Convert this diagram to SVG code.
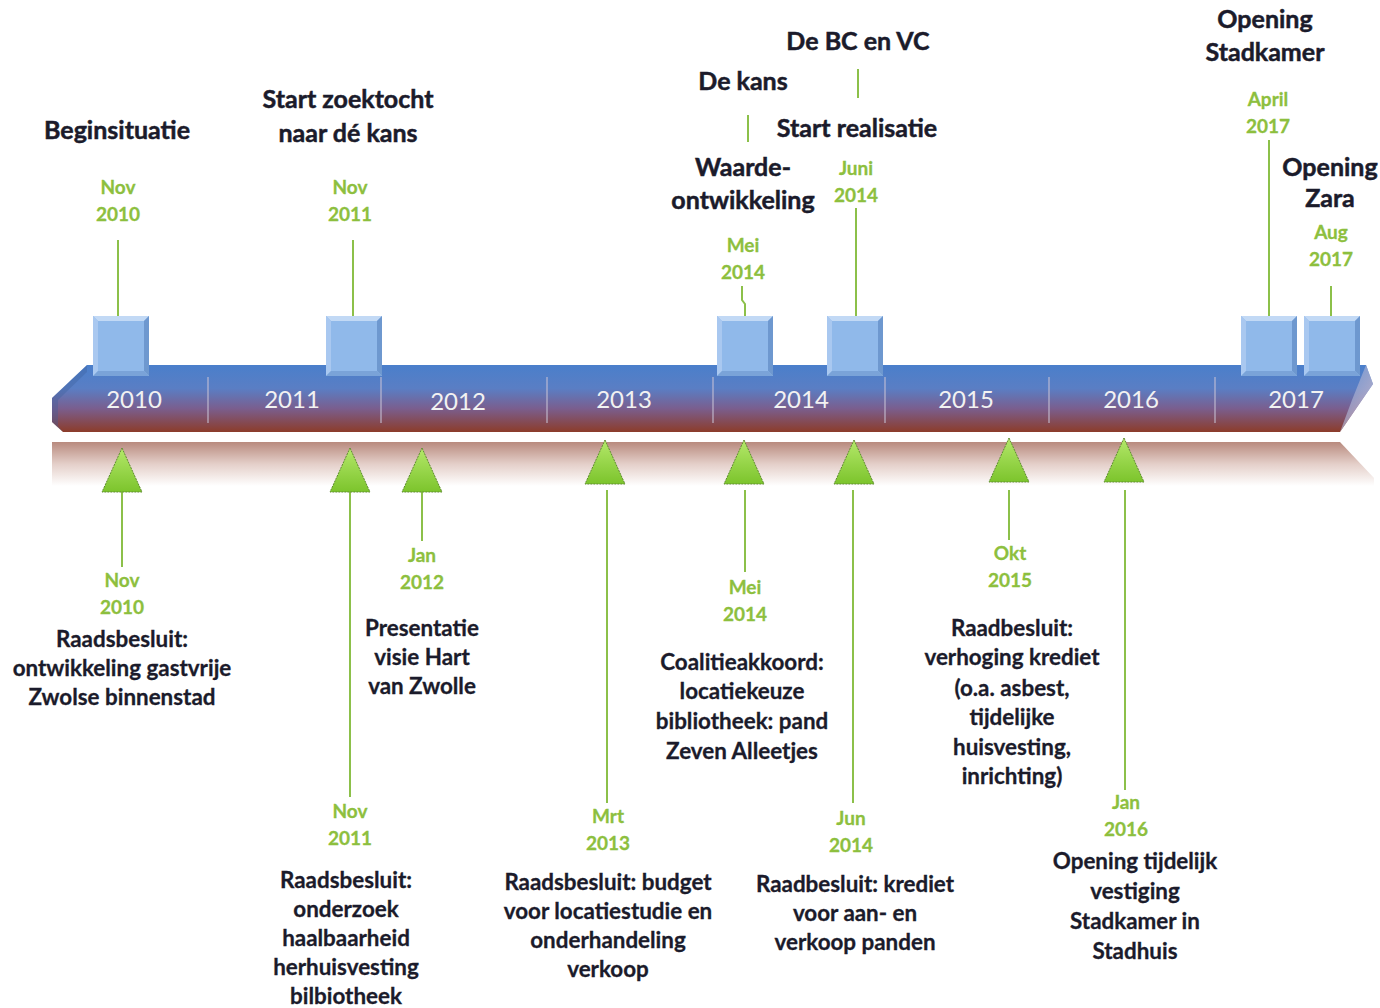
<svg xmlns="http://www.w3.org/2000/svg" width="1380" height="1008" viewBox="0 0 1380 1008">
  <defs>
    <linearGradient id="barGrad" x1="0" y1="0" x2="0" y2="1">
      <stop offset="0" stop-color="#4a7fcb"/>
      <stop offset="0.35" stop-color="#5a7ec4"/>
      <stop offset="0.65" stop-color="#7a5e8e"/>
      <stop offset="1" stop-color="#8c3c2a"/>
    </linearGradient>
    <linearGradient id="reflGrad" x1="0" y1="0" x2="0" y2="1">
      <stop offset="0" stop-color="#b88a7e"/>
      <stop offset="0.5" stop-color="#e4cfc9"/>
      <stop offset="1" stop-color="#ffffff"/>
    </linearGradient>
    <linearGradient id="tipGrad" x1="0" y1="0" x2="1" y2="1">
      <stop offset="0" stop-color="#6e9ad8"/>
      <stop offset="1" stop-color="#f0c8c8"/>
    </linearGradient>
    <linearGradient id="triGrad" x1="0" y1="0" x2="0" y2="1">
      <stop offset="0" stop-color="#b4e86a"/>
      <stop offset="1" stop-color="#7cc42c"/>
    </linearGradient>
    <!-- bevelled blue marker square, 56 x 60 -->
    <g id="sq">
      <rect x="0" y="0" width="56" height="60" fill="#8fb8ea"/>
      <polygon points="0,0 56,0 51,5 5,5" fill="#c2d9f5"/>
      <polygon points="0,0 5,5 5,55 0,60" fill="#a9c8f0"/>
      <polygon points="56,0 56,60 51,55 51,5" fill="#6e98cf"/>
      <polygon points="0,60 56,60 51,55 5,55" fill="#7aa3d8"/>
      <rect x="5" y="5" width="46" height="50" fill="#90b9ea"/>
    </g>
    <!-- green marker triangle, apex at origin -->
    <polygon id="tri" points="0,0 20,44 -20,44" fill="url(#triGrad)" stroke="#5f8c30" stroke-width="1" stroke-dasharray="2 1"/>
  </defs>
  <style>
    .lead { stroke: #8cc04a; stroke-width: 2; fill: none; }
    .date { font-family: Lato, "Open Sans", sans-serif; font-weight: bold; font-size: 19px; fill: #8dbf3e; stroke: #8dbf3e; stroke-width: 0.3; text-anchor: middle; }
    .head { font-family: Lato, "Open Sans", sans-serif; font-weight: bold; font-size: 25px; fill: #1b1b2b; stroke: #1b1b2b; stroke-width: 0.5; text-anchor: middle; }
    .note { font-family: Lato, "Open Sans", sans-serif; font-weight: bold; font-size: 22.4px; fill: #1b1b2b; stroke: #1b1b2b; stroke-width: 0.3; text-anchor: middle; }
    .year { font-family: Lato, "Open Sans", sans-serif; font-size: 24px; fill: #f2f2f2; text-anchor: middle; }
    .div { stroke: #c9c3d6; stroke-width: 1.5; opacity: 0.7; }
  </style>

  <rect width="1380" height="1008" fill="#ffffff"/>

  <!-- timeline bar -->
  <g id="timeline">
    <polygon points="52,442 1340,442 1374,478 1374,486 52,486" fill="url(#reflGrad)"/>
    <polygon points="87,365 1366,365 1373,384 1340,432 63,432 52,422 52,398" fill="url(#barGrad)"/>
    <polygon points="1366,365 1373,384 1340,432 1352,400" fill="url(#tipGrad)" opacity="0.7"/>
    <polygon points="52,398 87,365 87,372 58,400 58,426 63,432 52,422" fill="#3d5f9a" opacity="0.35"/>
    <line class="div" x1="208" y1="377" x2="208" y2="423"/>
    <line class="div" x1="381" y1="377" x2="381" y2="423"/>
    <line class="div" x1="547" y1="377" x2="547" y2="423"/>
    <line class="div" x1="713" y1="377" x2="713" y2="423"/>
    <line class="div" x1="885" y1="377" x2="885" y2="423"/>
    <line class="div" x1="1049" y1="377" x2="1049" y2="423"/>
    <line class="div" x1="1215" y1="377" x2="1215" y2="423"/>
    <text class="year" x="134" y="408">2010</text>
    <text class="year" x="292" y="408">2011</text>
    <text class="year" x="458" y="410">2012</text>
    <text class="year" x="624" y="408">2013</text>
    <text class="year" x="801" y="408">2014</text>
    <text class="year" x="966" y="408">2015</text>
    <text class="year" x="1131" y="408">2016</text>
    <text class="year" x="1296" y="408">2017</text>
  </g>

  <!-- connectors: leader lines from markers to labels -->
  <g id="connectors">
    <line class="lead" x1="118" y1="240" x2="118" y2="316"/>
    <line class="lead" x1="353" y1="240" x2="353" y2="316"/>
    <polyline class="lead" points="742,286 742,300 745,304 745,316"/>
    <line class="lead" x1="856" y1="208" x2="856" y2="316"/>
    <line class="lead" x1="1269" y1="140" x2="1269" y2="316"/>
    <line class="lead" x1="1331" y1="286" x2="1331" y2="316"/>
    <line class="lead" x1="748" y1="115" x2="748" y2="142"/>
    <line class="lead" x1="858" y1="69" x2="858" y2="98"/>

    <line class="lead" x1="122" y1="490" x2="122" y2="567"/>
    <line class="lead" x1="350" y1="490" x2="350" y2="797"/>
    <line class="lead" x1="422" y1="490" x2="422" y2="541"/>
    <line class="lead" x1="607" y1="490" x2="607" y2="803"/>
    <line class="lead" x1="745" y1="490" x2="745" y2="572"/>
    <line class="lead" x1="853" y1="490" x2="853" y2="803"/>
    <line class="lead" x1="1009" y1="490" x2="1009" y2="540"/>
    <line class="lead" x1="1125" y1="490" x2="1125" y2="790"/>
  </g>

  <!-- events above the timeline -->
  <g id="ev-2010-11-top">
    <use href="#sq" x="93" y="316"/>
    <text class="date" x="118" y="194">Nov</text>
    <text class="date" x="118" y="221">2010</text>
    <text class="head" x="117" y="139">Beginsituatie</text>
  </g>
  <g id="ev-2011-11-top">
    <use href="#sq" x="326" y="316"/>
    <text class="date" x="350" y="194">Nov</text>
    <text class="date" x="350" y="221">2011</text>
    <text class="head" x="348" y="108">Start zoektocht</text>
    <text class="head" x="348" y="142">naar dé kans</text>
  </g>
  <g id="ev-2014-05-top">
    <use href="#sq" x="717" y="316"/>
    <text class="date" x="743" y="252">Mei</text>
    <text class="date" x="743" y="279">2014</text>
    <text class="head" x="743" y="90">De kans</text>
    <text class="head" x="743" y="176">Waarde-</text>
    <text class="head" x="743" y="209">ontwikkeling</text>
  </g>
  <g id="ev-2014-06-top">
    <use href="#sq" x="827" y="316"/>
    <text class="date" x="856" y="175">Juni</text>
    <text class="date" x="856" y="202">2014</text>
    <text class="head" x="858" y="50">De BC en VC</text>
    <text class="head" x="857" y="137">Start realisatie</text>
  </g>
  <g id="ev-2017-04-top">
    <use href="#sq" x="1241" y="316"/>
    <text class="date" x="1268" y="106">April</text>
    <text class="date" x="1268" y="133">2017</text>
    <text class="head" x="1265" y="28">Opening</text>
    <text class="head" x="1265" y="61">Stadkamer</text>
  </g>
  <g id="ev-2017-08-top">
    <use href="#sq" x="1304" y="316"/>
    <text class="date" x="1331" y="239">Aug</text>
    <text class="date" x="1331" y="266">2017</text>
    <text class="head" x="1330" y="176">Opening</text>
    <text class="head" x="1330" y="207">Zara</text>
  </g>

  <!-- events below the timeline -->
  <g id="ev-2010-11-bottom">
    <use href="#tri" x="122" y="448"/>
    <text class="date" x="122" y="587">Nov</text>
    <text class="date" x="122" y="614">2010</text>
    <text class="note" x="122" y="647">Raadsbesluit:</text>
    <text class="note" x="122" y="676">ontwikkeling gastvrije</text>
    <text class="note" x="122" y="705">Zwolse binnenstad</text>
  </g>
  <g id="ev-2011-11-bottom">
    <use href="#tri" x="350" y="448"/>
    <text class="date" x="350" y="818">Nov</text>
    <text class="date" x="350" y="845">2011</text>
    <text class="note" x="346" y="888">Raadsbesluit:</text>
    <text class="note" x="346" y="917">onderzoek</text>
    <text class="note" x="346" y="946">haalbaarheid</text>
    <text class="note" x="346" y="975">herhuisvesting</text>
    <text class="note" x="346" y="1004">bilbiotheek</text>
  </g>
  <g id="ev-2012-01-bottom">
    <use href="#tri" x="422" y="448"/>
    <text class="date" x="422" y="562">Jan</text>
    <text class="date" x="422" y="589">2012</text>
    <text class="note" x="422" y="636">Presentatie</text>
    <text class="note" x="422" y="665">visie Hart</text>
    <text class="note" x="422" y="694">van Zwolle</text>
  </g>
  <g id="ev-2013-03-bottom">
    <use href="#tri" x="605" y="440"/>
    <text class="date" x="608" y="823">Mrt</text>
    <text class="date" x="608" y="850">2013</text>
    <text class="note" x="608" y="890">Raadsbesluit: budget</text>
    <text class="note" x="608" y="919">voor locatiestudie en</text>
    <text class="note" x="608" y="948">onderhandeling</text>
    <text class="note" x="608" y="977">verkoop</text>
  </g>
  <g id="ev-2014-05-bottom">
    <use href="#tri" x="744" y="440"/>
    <text class="date" x="745" y="594">Mei</text>
    <text class="date" x="745" y="621">2014</text>
    <text class="note" x="742" y="670">Coalitieakkoord:</text>
    <text class="note" x="742" y="699">locatiekeuze</text>
    <text class="note" x="742" y="729">bibliotheek: pand</text>
    <text class="note" x="742" y="759">Zeven Alleetjes</text>
  </g>
  <g id="ev-2014-06-bottom">
    <use href="#tri" x="854" y="440"/>
    <text class="date" x="851" y="825">Jun</text>
    <text class="date" x="851" y="852">2014</text>
    <text class="note" x="855" y="892">Raadbesluit: krediet</text>
    <text class="note" x="855" y="921">voor aan- en</text>
    <text class="note" x="855" y="950">verkoop panden</text>
  </g>
  <g id="ev-2015-10-bottom">
    <use href="#tri" x="1009" y="438"/>
    <text class="date" x="1010" y="560">Okt</text>
    <text class="date" x="1010" y="587">2015</text>
    <text class="note" x="1012" y="636">Raadbesluit:</text>
    <text class="note" x="1012" y="665">verhoging krediet</text>
    <text class="note" x="1012" y="696">(o.a. asbest,</text>
    <text class="note" x="1012" y="725">tijdelijke</text>
    <text class="note" x="1012" y="755">huisvesting,</text>
    <text class="note" x="1012" y="784">inrichting)</text>
  </g>
  <g id="ev-2016-01-bottom">
    <use href="#tri" x="1124" y="438"/>
    <text class="date" x="1126" y="809">Jan</text>
    <text class="date" x="1126" y="836">2016</text>
    <text class="note" x="1135" y="869">Opening tijdelijk</text>
    <text class="note" x="1135" y="899">vestiging</text>
    <text class="note" x="1135" y="929">Stadkamer in</text>
    <text class="note" x="1135" y="959">Stadhuis</text>
  </g>
</svg>
